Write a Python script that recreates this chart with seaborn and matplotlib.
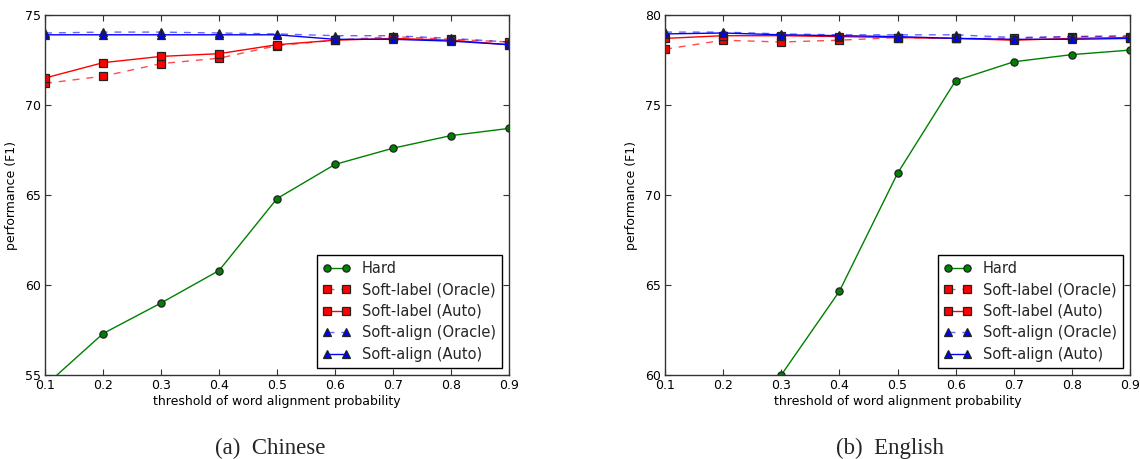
import numpy as np
import pandas as pd
import matplotlib
matplotlib.use("Agg")
import matplotlib.pyplot as plt
import seaborn as sns

thresholds = [0.1, 0.2, 0.3, 0.4, 0.5, 0.6, 0.7, 0.8, 0.9]

# Chinese
zh_hard = [54.4, 57.3, 59.0, 60.8, 64.8, 66.7, 67.6, 68.3, 68.7]
zh_label_oracle = [71.2, 71.6, 72.3, 72.6, 73.3, 73.6, 73.8, 73.65, 73.5]
zh_label_auto = [71.5, 72.35, 72.7, 72.85, 73.35, 73.6, 73.7, 73.6, 73.35]
zh_align_oracle = [74.0, 74.05, 74.05, 74.0, 73.95, 73.85, 73.85, 73.7, 73.5]
zh_align_auto = [73.9, 73.9, 73.9, 73.9, 73.9, 73.65, 73.65, 73.55, 73.35]

# English
en_hard = [50.0, 55.0, 60.0, 64.65, 71.2, 76.35, 77.4, 77.8, 78.05]
en_label_oracle = [78.1, 78.6, 78.5, 78.6, 78.75, 78.7, 78.7, 78.8, 78.8]
en_label_auto = [78.7, 78.85, 78.85, 78.8, 78.75, 78.7, 78.6, 78.7, 78.75]
en_align_oracle = [79.05, 79.05, 78.95, 78.9, 78.9, 78.9, 78.75, 78.8, 78.85]
en_align_auto = [78.95, 79.0, 78.9, 78.85, 78.8, 78.7, 78.65, 78.65, 78.7]

series_names = ["Hard", "Soft-label (Oracle)", "Soft-label (Auto)",
                "Soft-align (Oracle)", "Soft-align (Auto)"]
zh_yticks = [55, 60, 65, 70, 75]
en_yticks = [60, 65, 70, 75, 80]
captions = ["(a)  Chinese", "(b)  English"]

sns.set_theme(style="ticks")
plt.rcParams.update({
    "font.family": ["DejaVu Sans"],
    "xtick.direction": "in", "ytick.direction": "in",
    "xtick.top": True, "ytick.right": True,
    "xtick.major.size": 4, "ytick.major.size": 4,
    "xtick.major.width": 0.8, "ytick.major.width": 0.8,
    "xtick.major.pad": 3, "ytick.major.pad": 3,
    "axes.edgecolor": "#333333", "axes.linewidth": 1.0,
    "xtick.color": "#333333", "ytick.color": "#333333",
    "xtick.labelcolor": "black", "ytick.labelcolor": "black",
    "axes.labelcolor": "black",
})

fig = plt.figure(figsize=(11.4, 4.59), dpi=100)
ax1 = fig.add_axes([45/1140, 84/459, 464/1140, 360/459])
ax2 = fig.add_axes([665/1140, 84/459, 465/1140, 360/459])

styles = [
    dict(color="green", linestyle="-", marker="o", markerfacecolor="green"),
    dict(color=(1, 0, 0, 0.7), linestyle=(0, (5, 5)), marker="s", markerfacecolor="red"),
    dict(color="red", linestyle="-", marker="s", markerfacecolor="red"),
    dict(color=(0, 0, 1, 0.6), linestyle=(0, (5, 5)), marker="^", markerfacecolor="blue"),
    dict(color="blue", linestyle="-", marker="^", markerfacecolor="blue"),
]

panels = [
    (ax1, [zh_hard, zh_label_oracle, zh_label_auto, zh_align_oracle, zh_align_auto], zh_yticks),
    (ax2, [en_hard, en_label_oracle, en_label_auto, en_align_oracle, en_align_auto], en_yticks),
]

for ax, series, yt in panels:
    for name, vals, st in zip(series_names, series, styles):
        df = pd.DataFrame({"x": thresholds, "y": vals})
        sns.lineplot(data=df, x="x", y="y", ax=ax, label=name,
                     linewidth=1.0, markersize=5.2, markeredgecolor="#222222",
                     markeredgewidth=0.9, **st)
    ax.set_xlim(0.1, 0.9)
    ax.set_ylim(yt[0], yt[-1])
    ax.set_xticks(thresholds)
    ax.set_xticklabels([f"{t:.1f}" for t in thresholds])
    ax.set_yticks(yt)
    ax.tick_params(labelsize=9)
    ax.set_xlabel("threshold of word alignment probability", fontsize=9, labelpad=2)
    ax.set_ylabel("performance (F1)", fontsize=9, labelpad=5)
    leg = ax.legend(loc="lower right", fontsize=10.5, numpoints=2,
                    handlelength=1.9, handletextpad=0.8, fancybox=False,
                    framealpha=1, edgecolor="black", borderpad=0.4,
                    labelspacing=0.45)
    leg.get_frame().set_linewidth(1.0)

fig.text(270 / 1140, 1 - 448 / 459, captions[0], ha="center", va="center",
         fontsize=16.5, family="Liberation Serif")
fig.text(890 / 1140, 1 - 448 / 459, captions[1], ha="center", va="center",
         fontsize=16.5, family="Liberation Serif")

fig.savefig("out.png", dpi=100, facecolor="white")
